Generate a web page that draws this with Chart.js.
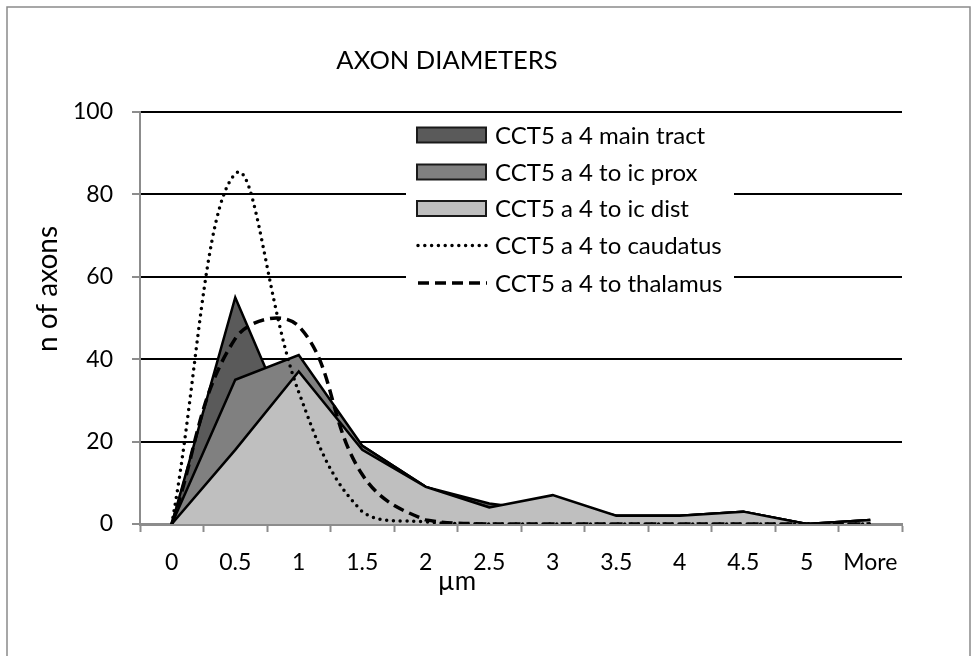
<!DOCTYPE html>
<html>
<head>
<meta charset="utf-8">
<script src="https://cdn.jsdelivr.net/npm/chart.js@4.4.1/dist/chart.umd.min.js"></script>
<style>
  body { margin: 0; background: #fff; }
  canvas { display: block; }
</style>
</head>
<body>
<canvas id="axonChart" width="972" height="656"></canvas>
<script>
// diameter bins (µm)
const bins = ['0', '0.5', '1', '1.5', '2', '2.5', '3', '3.5', '4', '4.5', '5', 'More'];

// histogram counts
const mainTract = [0, 55, 19, 19, 9, 5, 3, 2, 2, 3, 0, 1];
const icProx    = [0, 35, 41, 19, 9, 4, 6, 2, 2, 3, 0, 1];
const icDist    = [0, 18, 37, 18, 9, 4, 7, 2, 2, 3, 0, 1];
// fitted curves
const caudatus  = [0, 85, 32, 3, 0.5, 0, 0, 0, 0, 0, 0, 0];
const thalamus  = [0, 45, 48, 12, 1, 0, 0, 0, 0, 0, 0, 0];

const yTicks = [0, 20, 40, 60, 80, 100];

const FONT = 'Lato, "Open Sans", sans-serif';
const AXIS_GRAY = '#8c8c8c';

const areaSet = (label, data, color, order) => ({
    label, data, order,
    fill: 'origin',
    backgroundColor: color,
    borderColor: '#000',
    borderWidth: 2.5,
    borderJoinStyle: 'miter',
    pointRadius: 0,
    tension: 0
});

// titles, legend and frame drawn by hand, Excel style
const decorations = {
    id: 'decorations',
    afterDraw(chart) {
        const ctx = chart.ctx;
        ctx.save();

        // outer frame
        ctx.strokeStyle = '#8a8a8a';
        ctx.lineWidth = 1.5;
        ctx.strokeRect(7, 7, 963, 700);

        ctx.fillStyle = '#000';
        ctx.textAlign = 'center';
        ctx.textBaseline = 'middle';
        ctx.font = '25.5px ' + FONT;
        ctx.fillText('AXON DIAMETERS', 447, 61);

        ctx.font = '26px ' + FONT;
        ctx.fillText('µm', 457, 582);

        ctx.save();
        ctx.translate(48, 289);
        ctx.rotate(-Math.PI / 2);
        ctx.font = '28px ' + FONT;
        ctx.fillText('n of axons', 0, 0);
        ctx.restore();

        // legend box over the grid
        ctx.fillStyle = '#fff';
        ctx.fillRect(406, 118, 328, 182);

        const rows = [135, 172, 208.5, 245.5, 283];
        ctx.font = '24px ' + FONT;
        ctx.textAlign = 'left';
        chart.data.datasets.forEach((ds, i) => {
            const y = rows[i];
            if (ds.fill) {
                ctx.fillStyle = ds.backgroundColor;
                ctx.fillRect(417, y - 7.5, 69, 15);
                ctx.strokeStyle = '#1a1a1a';
                ctx.lineWidth = 2;
                ctx.strokeRect(417, y - 7.5, 69, 15);
            } else {
                ctx.strokeStyle = '#000';
                ctx.lineWidth = ds.borderWidth;
                ctx.lineCap = ds.borderCapStyle;
                ctx.setLineDash(ds.borderDash);
                ctx.beginPath();
                ctx.moveTo(418, y);
                ctx.lineTo(487, y);
                ctx.stroke();
                ctx.setLineDash([]);
                ctx.lineCap = 'butt';
            }
            ctx.fillStyle = '#000';
            ctx.fillText(ds.label, 495, y + 1);
        });

        ctx.restore();
    }
};

const ctx = document.getElementById('axonChart').getContext('2d');
const axonChart = new Chart(ctx, {
    type: 'line',
    data: {
        labels: bins,
        datasets: [
            areaSet('CCT5 a 4 main tract', mainTract, '#5a5a5a', 4),
            areaSet('CCT5 a 4 to ic prox', icProx, '#808080', 3),
            areaSet('CCT5 a 4 to ic dist', icDist, '#bfbfbf', 2),
            {
                label: 'CCT5 a 4 to caudatus',
                data: caudatus,
                order: 1,
                fill: false,
                borderColor: '#000',
                borderWidth: 3.5,
                borderDash: [0, 6.8],
                borderCapStyle: 'round',
                pointRadius: 0,
                tension: 0.4
            },
            {
                label: 'CCT5 a 4 to thalamus',
                data: thalamus,
                order: 0,
                fill: false,
                borderColor: '#000',
                borderWidth: 3.5,
                borderDash: [11, 6],
                borderCapStyle: 'butt',
                pointRadius: 0,
                tension: 0.4
            }
        ]
    },
    options: {
        responsive: false,
        animation: false,
        layout: { padding: { top: 112, right: 70, bottom: 0, left: 0 } },
        plugins: {
            legend: { display: false },
            tooltip: { enabled: false }
        },
        scales: {
            x: {
                offset: true,
                afterFit: (scale) => { scale.height = 132; },
                grid: {
                    offset: true,
                    drawOnChartArea: false,
                    drawTicks: true,
                    tickLength: 8,
                    tickColor: AXIS_GRAY,
                    tickWidth: 2
                },
                border: { color: AXIS_GRAY, width: 3 },
                ticks: {
                    color: '#000',
                    padding: 17,
                    maxRotation: 0,
                    autoSkip: false,
                    font: { family: FONT, size: 23 }
                }
            },
            y: {
                min: 0,
                max: 100,
                afterFit: (scale) => { scale.width = 140; },
                afterBuildTicks: (scale) => {
                    scale.ticks = yTicks.map(v => ({ value: v }));
                },
                grid: {
                    color: (c) => c.tick && c.tick.value === 0 ? AXIS_GRAY : '#000',
                    lineWidth: 2,
                    tickLength: 8,
                    tickColor: AXIS_GRAY,
                    tickWidth: 2
                },
                border: { color: AXIS_GRAY, width: 2 },
                ticks: {
                    color: '#000',
                    padding: 19,
                    font: { family: FONT, size: 23 }
                }
            }
        }
    },
    plugins: [decorations]
});
</script>
</body>
</html>
